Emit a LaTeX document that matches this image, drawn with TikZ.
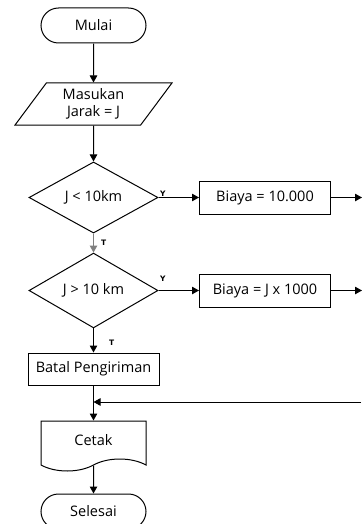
\documentclass[tikz,border=0pt]{standalone}
\usepackage{fontspec}
\setmainfont{Open Sans}
\newfontfamily\lblfont{DejaVu Sans}
\usetikzlibrary{arrows.meta,shapes.geometric,shapes.misc,shapes.symbols}

\begin{document}
\begin{tikzpicture}[>={Triangle[length=7pt,width=7.5pt]},line width=1pt,x=1pt,y=1pt,
    font=\fontsize{14.5}{16.5}\selectfont,
    terminal/.style={draw,rounded rectangle,minimum width=105pt,minimum height=35pt,inner sep=0pt},
    io/.style={draw,trapezium,trapezium left angle=56,trapezium right angle=124,
      trapezium stretches=true,minimum width=157pt,minimum height=42pt,inner sep=0pt,align=center},
    decision/.style={draw,diamond,minimum width=129pt,minimum height=63pt,inner sep=0pt},
    process/.style={draw,rectangle,minimum width=131pt,minimum height=33pt,inner sep=0pt},
    printout/.style={draw,tape,tape bend top=none,tape bend bottom=in and out,
      tape bend height=12pt,minimum width=105pt,minimum height=50pt,inner sep=0pt},
    yt/.style={font=\lblfont\fontsize{7.5}{8}\selectfont\bfseries,text=black,inner sep=1pt}]
    \useasboundingbox (0,0) rectangle (361,-524);
    \node[terminal] (mulai) at (93.5,-25.5) {Mulai};
    \node[io,node distance=78.5pt] (input) [below of=mulai] {Masukan\\Jarak = J};
    \node[decision,node distance=93.5pt] (dec1) [below of=input] {J < 10km};
    \node[process,node distance=171.5pt] (biaya1) [right of=dec1] {Biaya = 10.000};
    \node[decision,node distance=93pt] (dec2) [below of=dec1] {J > 10 km};
    \node[process,node distance=171.5pt] (biaya2) [right of=dec2] {Biaya = J x 1000};
    \node[process,minimum height=32pt,node distance=78.5pt] (batal) [below of=dec2] {Batal Pengiriman};
    \node[printout,node distance=71pt] (cetak) [below of=batal] {Cetak};
    \node[terminal,node distance=71.5pt] (selesai) [below of=cetak] {Selesai};

    \coordinate (out1) at ([xshift=31pt]biaya1.east);
    \coordinate (out2) at ([xshift=31pt]biaya2.east);
    \coordinate (back) at (361,-402);
    \coordinate (join) at (batal.south |- back);

    \path[->]
    (mulai) edge (input)
    (input) edge (dec1)
    (dec1) edge node[yt,at start,above right] {Y} (biaya1)
    (dec1) edge[gray] node[yt,midway,right,xshift=6pt] {T} (dec2)
    (biaya1) edge (out1)

    (dec2) edge node[yt,at start,above right,yshift=8pt] {Y} (biaya2)
    (dec2) edge node[yt,pos=0.6,right,xshift=14pt] {T} (batal)
    (biaya2) edge (out2)

    (batal) edge (cetak)
    (back) edge (join)
    (cetak) edge (selesai)
    ;
\end{tikzpicture}
\end{document}
